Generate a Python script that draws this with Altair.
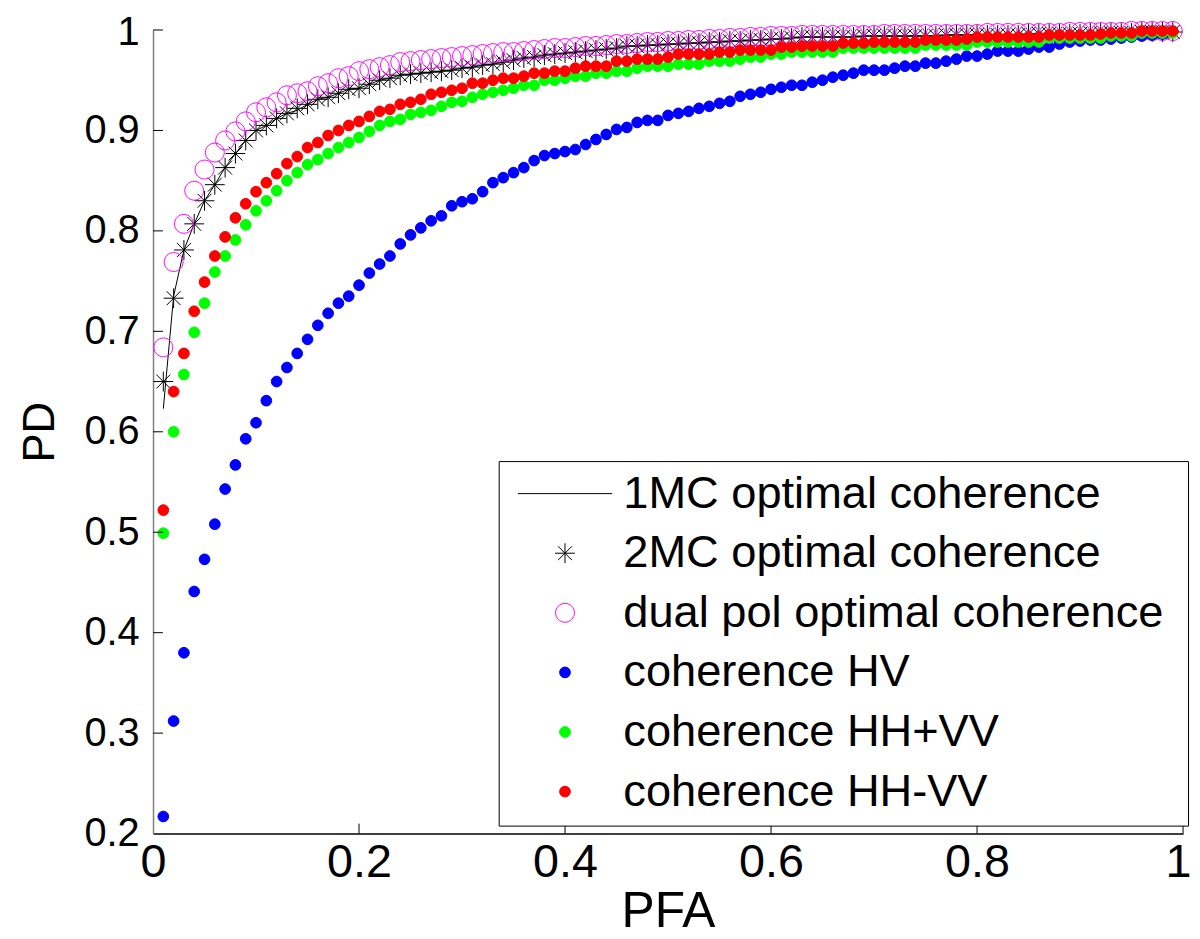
import altair as alt
import pandas as pd

PFA = [0.01, 0.02, 0.03, 0.04, 0.05, 0.06, 0.07, 0.08, 0.09, 0.10,
       0.11, 0.12, 0.13, 0.14, 0.15, 0.16, 0.17, 0.18, 0.19, 0.20,
       0.21, 0.22, 0.23, 0.24, 0.25, 0.26, 0.27, 0.28, 0.29, 0.30,
       0.31, 0.32, 0.33, 0.34, 0.35, 0.36, 0.37, 0.38, 0.39, 0.40,
       0.41, 0.42, 0.43, 0.44, 0.45, 0.46, 0.47, 0.48, 0.49, 0.50,
       0.51, 0.52, 0.53, 0.54, 0.55, 0.56, 0.57, 0.58, 0.59, 0.60,
       0.61, 0.62, 0.63, 0.64, 0.65, 0.66, 0.67, 0.68, 0.69, 0.70,
       0.71, 0.72, 0.73, 0.74, 0.75, 0.76, 0.77, 0.78, 0.79, 0.80,
       0.81, 0.82, 0.83, 0.84, 0.85, 0.86, 0.87, 0.88, 0.89, 0.90,
       0.91, 0.92, 0.93, 0.94, 0.95, 0.96, 0.97, 0.98, 0.99]

PD_1MC = [0.623, 0.735, 0.781, 0.807, 0.830, 0.846, 0.863, 0.877, 0.890, 0.900,
          0.905, 0.912, 0.917, 0.920, 0.926, 0.931, 0.933, 0.937, 0.941, 0.942,
          0.946, 0.950, 0.952, 0.955, 0.956, 0.957, 0.958, 0.959, 0.960, 0.962,
          0.963, 0.965, 0.966, 0.968, 0.970, 0.972, 0.973, 0.975, 0.976, 0.977,
          0.978, 0.979, 0.980, 0.981, 0.982, 0.984, 0.984, 0.985, 0.985, 0.986,
          0.986, 0.987, 0.987, 0.988, 0.988, 0.989, 0.989, 0.990, 0.990, 0.991,
          0.991, 0.992, 0.993, 0.993, 0.993, 0.993, 0.993, 0.993, 0.994, 0.994,
          0.994, 0.994, 0.994, 0.994, 0.994, 0.994, 0.995, 0.995, 0.995, 0.995,
          0.995, 0.995, 0.995, 0.995, 0.996, 0.996, 0.996, 0.996, 0.996, 0.996,
          0.997, 0.997, 0.997, 0.997, 0.997, 0.998, 0.998, 0.998, 0.998]

PD_2MC = [0.650, 0.733, 0.781, 0.807, 0.830, 0.846, 0.863, 0.877, 0.890, 0.900,
          0.905, 0.912, 0.917, 0.922, 0.926, 0.931, 0.933, 0.937, 0.941, 0.942,
          0.946, 0.950, 0.952, 0.955, 0.956, 0.957, 0.958, 0.959, 0.960, 0.962,
          0.963, 0.965, 0.966, 0.968, 0.970, 0.972, 0.973, 0.975, 0.976, 0.977,
          0.978, 0.979, 0.980, 0.981, 0.982, 0.984, 0.984, 0.985, 0.985, 0.986,
          0.986, 0.987, 0.987, 0.988, 0.988, 0.989, 0.989, 0.990, 0.990, 0.991,
          0.991, 0.992, 0.993, 0.993, 0.993, 0.993, 0.993, 0.993, 0.994, 0.994,
          0.994, 0.994, 0.994, 0.994, 0.994, 0.994, 0.995, 0.995, 0.995, 0.995,
          0.995, 0.995, 0.995, 0.995, 0.996, 0.996, 0.996, 0.996, 0.996, 0.996,
          0.997, 0.997, 0.997, 0.997, 0.997, 0.998, 0.998, 0.998, 0.998]

PD_DUAL = [0.684, 0.769, 0.807, 0.840, 0.861, 0.878, 0.890, 0.899, 0.909, 0.918,
           0.923, 0.928, 0.935, 0.937, 0.939, 0.944, 0.947, 0.952, 0.954, 0.959,
           0.961, 0.963, 0.965, 0.968, 0.969, 0.970, 0.971, 0.972, 0.973, 0.974,
           0.975, 0.976, 0.977, 0.978, 0.978, 0.979, 0.980, 0.981, 0.982, 0.982,
           0.983, 0.984, 0.984, 0.985, 0.986, 0.986, 0.987, 0.988, 0.988, 0.989,
           0.989, 0.990, 0.990, 0.991, 0.991, 0.992, 0.992, 0.993, 0.993, 0.994,
           0.994, 0.994, 0.995, 0.995, 0.995, 0.995, 0.995, 0.995, 0.995, 0.995,
           0.996, 0.996, 0.996, 0.996, 0.996, 0.996, 0.996, 0.996, 0.996, 0.996,
           0.997, 0.997, 0.997, 0.997, 0.997, 0.997, 0.997, 0.997, 0.998, 0.998,
           0.998, 0.998, 0.998, 0.998, 0.999, 0.999, 0.999, 0.999, 0.999]

PD_HV = [0.217, 0.312, 0.380, 0.441, 0.473, 0.508, 0.543, 0.567, 0.593, 0.609,
         0.631, 0.650, 0.664, 0.678, 0.692, 0.706, 0.718, 0.728, 0.735, 0.746,
         0.758, 0.767, 0.775, 0.787, 0.796, 0.803, 0.810, 0.815, 0.825, 0.829,
         0.832, 0.839, 0.848, 0.853, 0.858, 0.863, 0.870, 0.875, 0.877, 0.879,
         0.881, 0.886, 0.891, 0.896, 0.901, 0.903, 0.908, 0.910, 0.910, 0.915,
         0.917, 0.919, 0.922, 0.924, 0.927, 0.929, 0.934, 0.936, 0.938, 0.941,
         0.943, 0.945, 0.945, 0.948, 0.950, 0.953, 0.955, 0.957, 0.960, 0.960,
         0.960, 0.962, 0.964, 0.964, 0.967, 0.967, 0.969, 0.971, 0.974, 0.974,
         0.976, 0.979, 0.979, 0.979, 0.981, 0.983, 0.983, 0.986, 0.988, 0.989,
         0.990, 0.990, 0.991, 0.992, 0.993, 0.994, 0.995, 0.996, 0.998]

PD_HHpVV = [0.499, 0.600, 0.657, 0.699, 0.728, 0.759, 0.775, 0.791, 0.806, 0.820,
            0.830, 0.840, 0.850, 0.858, 0.866, 0.871, 0.877, 0.883, 0.888, 0.893,
            0.899, 0.905, 0.909, 0.911, 0.916, 0.918, 0.920, 0.924, 0.928, 0.929,
            0.933, 0.936, 0.938, 0.940, 0.942, 0.945, 0.945, 0.950, 0.950, 0.952,
            0.954, 0.954, 0.957, 0.957, 0.959, 0.959, 0.962, 0.964, 0.964, 0.964,
            0.966, 0.966, 0.966, 0.969, 0.969, 0.969, 0.971, 0.973, 0.973, 0.976,
            0.976, 0.978, 0.978, 0.978, 0.978, 0.978, 0.982, 0.982, 0.982, 0.982,
            0.982, 0.982, 0.982, 0.982, 0.985, 0.985, 0.985, 0.985, 0.985, 0.988,
            0.988, 0.988, 0.988, 0.988, 0.988, 0.988, 0.992, 0.992, 0.992, 0.992,
            0.992, 0.992, 0.994, 0.994, 0.994, 0.997, 0.997, 0.997, 0.997]

PD_HHmVV = [0.522, 0.640, 0.678, 0.720, 0.749, 0.775, 0.794, 0.813, 0.827, 0.839,
            0.848, 0.857, 0.867, 0.874, 0.883, 0.888, 0.895, 0.900, 0.905, 0.909,
            0.914, 0.919, 0.921, 0.926, 0.928, 0.931, 0.936, 0.938, 0.940, 0.942,
            0.947, 0.947, 0.950, 0.952, 0.952, 0.954, 0.957, 0.957, 0.959, 0.959,
            0.962, 0.964, 0.964, 0.964, 0.969, 0.969, 0.971, 0.971, 0.971, 0.973,
            0.976, 0.976, 0.976, 0.976, 0.978, 0.978, 0.980, 0.980, 0.980, 0.980,
            0.983, 0.983, 0.984, 0.984, 0.984, 0.984, 0.987, 0.987, 0.987, 0.988,
            0.988, 0.988, 0.988, 0.988, 0.990, 0.990, 0.990, 0.990, 0.991, 0.993,
            0.993, 0.993, 0.993, 0.993, 0.993, 0.993, 0.995, 0.995, 0.995, 0.995,
            0.995, 0.996, 0.997, 0.997, 0.997, 0.999, 0.999, 0.999, 0.999]

SERIES = ["1MC optimal coherence", "2MC optimal coherence", "dual pol optimal coherence",
          "coherence HV", "coherence HH+VV", "coherence HH-VV"]
STROKES = ["#000000", "#000000", "#ff00ff", "#0000ff", "#00ff00", "#ff0000"]
FILLS = ["transparent", "transparent", "transparent", "#0000ff", "#00ff00", "#ff0000"]
LINE_PATH = "M-2.375,0L2.375,0"
STAR_PATH = "M-0.5,0L0.5,0M0,-0.5L0,0.5M-0.35,-0.35L0.35,0.35M-0.35,0.35L0.35,-0.35"
RING_PATH = "M0.475,0A0.475,0.475,0,1,1,-0.475,0A0.475,0.475,0,1,1,0.475,0Z"
DOT_PATH = "M0.27,0A0.27,0.27,0,1,1,-0.27,0A0.27,0.27,0,1,1,0.27,0Z"
SHAPES = [LINE_PATH, STAR_PATH, RING_PATH, DOT_PATH, DOT_PATH, DOT_PATH]

XTICKS = [0, 0.2, 0.4, 0.6, 0.8, 1]
YTICKS = [0.2, 0.3, 0.4, 0.5, 0.6, 0.7, 0.8, 0.9, 1]

W, H = 1037, 809
FONT = "Liberation Sans, Arial, Helvetica, sans-serif"

line_df = pd.DataFrame({"PFA": PFA, "PD": PD_1MC, "series": SERIES[0]})
pts_df = pd.concat([
    pd.DataFrame({"PFA": PFA, "PD": vals, "series": name})
    for name, vals in zip(SERIES[1:], [PD_2MC, PD_DUAL, PD_HV, PD_HHpVV, PD_HHmVV])
], ignore_index=True)

xscale = alt.Scale(domain=[0, 1], nice=False, zero=False)
yscale = alt.Scale(domain=[0.2, 1], nice=False, zero=False)

xaxis = alt.Axis(values=XTICKS, format="~g", ticks=False, grid=False,
                 domainColor="#000000", domainWidth=1.5,
                 labelFont=FONT, labelFontSize=47, labelColor="#000000",
                 labelPadding=6,
                 labelAlign={"condition": {"test": "datum.value === 1", "value": "right"}, "value": "center"},
                 labelOffset={"condition": {"test": "datum.value === 1", "value": 8}, "value": 0},
                 title="PFA", titleFont=FONT,
                 titleFontSize=50, titleFontWeight="normal", titleColor="#000000",
                 titlePadding=2, labelFlush=False, labelOverlap=False)
yaxis = alt.Axis(values=YTICKS, format="~g", ticks=False, grid=False,
                 domainColor="#808080", domainWidth=1.5,
                 labelFont=FONT, labelFontSize=40, labelColor="#000000",
                 labelPadding=14,
                 labelOffset={"condition": {"test": "datum.value === 1", "value": 3}, "value": 0},
                 title="PD", titleFont=FONT,
                 titleFontSize=44, titleFontWeight="normal", titleColor="#000000",
                 titlePadding=22, labelFlush=False, labelOverlap=False)

legend = alt.Legend(title="\u00a0", titleOrient="right", titleFontSize=20, titlePadding=15,
                    orient="none", legendX=348, legendY=434,
                    strokeColor="#000000", fillColor="#ffffff", padding=10,
                    labelFont=FONT, labelFontSize=45.5, labelColor="#000000",
                    labelLimit=2000, labelOffset=36, symbolSize=1600, symbolOffset=34,
                    symbolStrokeWidth=1, symbolOpacity=1, rowPadding=13)

line = alt.Chart(line_df).mark_line(color="#000000", strokeWidth=1).encode(
    x=alt.X("PFA:Q", scale=xscale, axis=xaxis),
    y=alt.Y("PD:Q", scale=yscale, axis=yaxis),
)

pts = alt.Chart(pts_df).mark_point(filled=False, size=1600, strokeWidth=1, opacity=1).encode(
    x=alt.X("PFA:Q", scale=xscale),
    y=alt.Y("PD:Q", scale=yscale),
    color=alt.Color("series:N", scale=alt.Scale(domain=SERIES, range=STROKES), legend=legend),
    fill=alt.Fill("series:N", scale=alt.Scale(domain=SERIES, range=FILLS), legend=legend),
    shape=alt.Shape("series:N", scale=alt.Scale(domain=SERIES, range=SHAPES), legend=legend),
)

xt = alt.Chart(pd.DataFrame({"t": XTICKS[1:]})).mark_rule(color="#000000", strokeWidth=1).encode(
    x=alt.X("t:Q", scale=xscale), y=alt.value(H), y2=alt.value(H - 10))
yt = alt.Chart(pd.DataFrame({"t": YTICKS[1:]})).mark_rule(color="#000000", strokeWidth=1).encode(
    y=alt.Y("t:Q", scale=yscale), x=alt.value(0), x2=alt.value(10))

chart = alt.layer(line, pts, xt, yt).properties(
    width=W, height=H,
    autosize=alt.AutoSizeParams(type="none"),
    padding={"left": 146, "top": 19, "right": 9, "bottom": 103},
    background="#ffffff",
).configure_view(stroke=None)

chart.save("out.html", embed_options={"renderer": "svg", "actions": False})
